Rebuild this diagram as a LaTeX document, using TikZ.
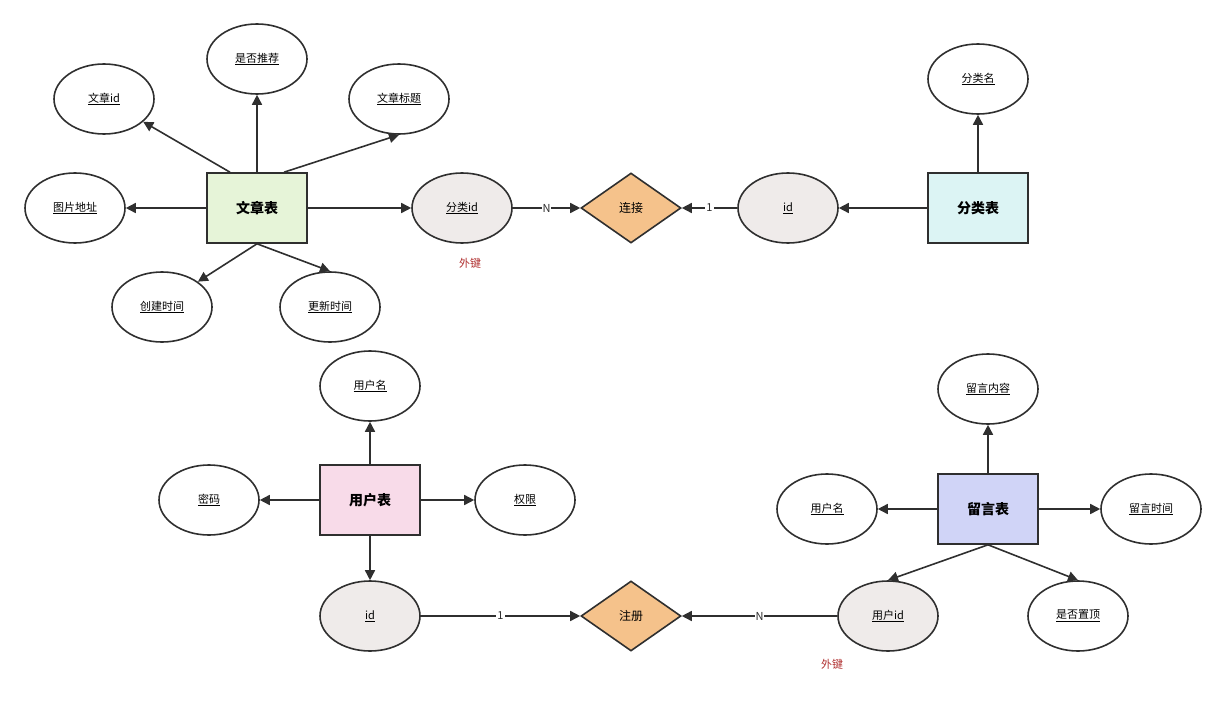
\documentclass[tikz,border=0pt]{standalone}
\usepackage{fontspec}
\setmainfont{Noto Sans CJK SC}
\usetikzlibrary{shapes.geometric,arrows.meta,calc}
\definecolor{line}{HTML}{2F2F2F}
\definecolor{keygray}{HTML}{EFEBEA}
\definecolor{relorange}{HTML}{F5C28B}
\definecolor{fkred}{HTML}{B03030}
\tikzset{
	entity/.style={rectangle,draw=line,line width=1.6pt,minimum width=100pt,minimum height=70pt,font=\bfseries\fontsize{14}{16}\selectfont},
	attr/.style={ellipse,draw=line,line width=1.6pt,fill=white,minimum width=100pt,minimum height=70pt,font=\fontsize{11}{13}\selectfont},
	key/.style={attr,fill=keygray},
	rel/.style={diamond,draw=line,line width=1.6pt,fill=relorange,minimum width=100pt,minimum height=70pt,aspect=1.43,inner sep=0pt,font=\fontsize{12}{14}\selectfont},
	link/.style={draw=line,line width=1.6pt,-{Triangle[length=10pt,width=10pt]}},
	card/.style={fill=white,inner sep=1pt,font=\fontsize{11}{13}\selectfont,text=line},
	fk/.style={text=fkred,font=\fontsize{11}{13}\selectfont}
}
\newcommand{\ul}[1]{\underline{#1}}
\begin{document}
\begin{tikzpicture}[x=1pt,y=-1pt]
	\useasboundingbox (0,0) rectangle (1226,709);

	% article
	\node (article) [entity,fill={rgb,255:red,230;green,244;blue,216}] at (257,208) {文章表};
	\node (article id)    [attr] at (104,99)  {\ul{文章id}};
	\node (recommend)     [attr] at (257,59)  {\ul{是否推荐}};
	\node (title)         [attr] at (399,99)  {\ul{文章标题}};
	\node (image)         [attr] at (75,208)  {\ul{图片地址}};
	\node (created)       [attr] at (162,307) {\ul{创建时间}};
	\node (updated)       [attr] at (330,307) {\ul{更新时间}};
	\node (category fk)   [key]  at (462,208) {\ul{分类id}};
	\node [fk] at (470,263) {外键};

	\draw[link] ($(article.north)+(-27,0)$) -- (article id);
	\draw[link] (article.north) -- (recommend);
	\draw[link] ($(article.north)+(27,0)$) -- (title.south);
	\draw[link] (article) -- (image);
	\draw[link] (article.south) -- (created.north east);
	\draw[link] (article.south) -- (updated.north);
	\draw[link] (article) -- (category fk);

	% category
	\node (connect)     [rel] at (631,208) {连接};
	\node (category id) [key] at (788,208) {\ul{id}};
	\node (category) [entity,fill={rgb,255:red,220;green,244;blue,244}] at (978,208) {分类表};
	\node (category name) [attr] at (978,79) {\ul{分类名}};

	\draw[link] (category fk) -- node[card] {N} (connect);
	\draw[link] (category id) -- node[card] {1} (connect);
	\draw[link] (category) -- (category id);
	\draw[link] (category) -- (category name);

	% user
	\node (user) [entity,fill={rgb,255:red,248;green,219;blue,233}] at (370,500) {用户表};
	\node (user name)  [attr] at (370,386) {\ul{用户名}};
	\node (password)   [attr] at (209,500) {\ul{密码}};
	\node (permission) [attr] at (525,500) {\ul{权限}};
	\node (user id)    [key]  at (370,616) {\ul{id}};

	\draw[link] (user) -- (user name);
	\draw[link] (user) -- (password);
	\draw[link] (user) -- (permission);
	\draw[link] (user) -- (user id);

	% message
	\node (register) [rel] at (631,616) {注册};
	\node (message) [entity,fill={rgb,255:red,208;green,212;blue,247}] at (988,509) {留言表};
	\node (content)      [attr] at (988,389)  {\ul{留言内容}};
	\node (message user) [attr] at (827,509)  {\ul{用户名}};
	\node (message time) [attr] at (1151,509) {\ul{留言时间}};
	\node (user fk)      [key]  at (888,616)  {\ul{用户id}};
	\node (pinned)       [attr] at (1078,616) {\ul{是否置顶}};
	\node [fk] at (832,664) {外键};

	\draw[link] (message) -- (content);
	\draw[link] (message) -- (message user);
	\draw[link] (message) -- (message time);
	\draw[link] (message.south) -- (user fk.north);
	\draw[link] (message.south) -- (pinned.north);

	\draw[link] (user id) -- node[card] {1} (register);
	\draw[link] (user fk) -- node[card] {N} (register);
\end{tikzpicture}
\end{document}
